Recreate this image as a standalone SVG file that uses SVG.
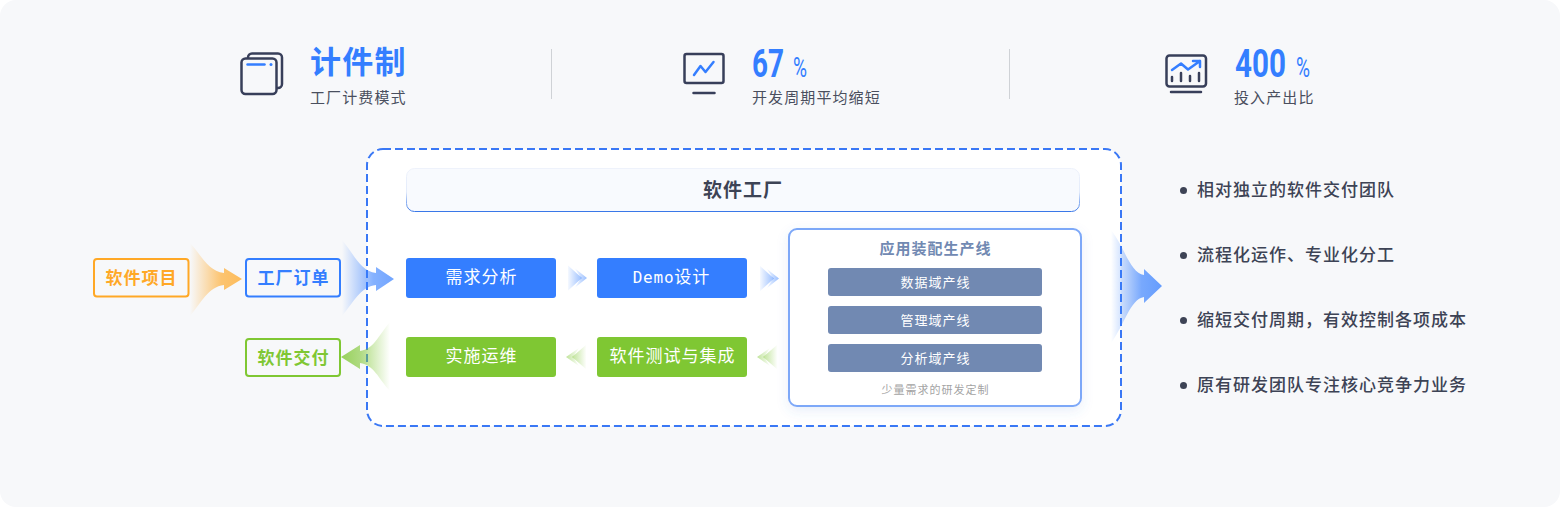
<svg xmlns="http://www.w3.org/2000/svg" width="1560" height="507" viewBox="0 0 1560 507">
<style>
text{font-family:"Noto Sans CJK SC","Noto Sans",sans-serif}
.ic{fill:none;stroke:#383F5A;stroke-width:2.5;stroke-linecap:round;stroke-linejoin:round}
.ib{fill:none;stroke:#347EFF;stroke-width:2.5;stroke-linecap:round;stroke-linejoin:round}
.ttl{font-size:31px;font-weight:700;fill:#347EFF;letter-spacing:1.300px}
.num{font-family:"Liberation Sans Narrow","Roboto","Liberation Sans",sans-serif;font-size:38px;font-weight:700;fill:#347EFF}
.pct{font-family:"Liberation Sans Narrow","Roboto","Liberation Sans",sans-serif;font-size:28px;fill:#347EFF}
.sub{font-size:15px;fill:#4A4F5E;letter-spacing:1.100px}
.lbl{font-size:17px;font-weight:700;text-anchor:middle;letter-spacing:1px}
.btn{font-size:17px;fill:#fff;text-anchor:middle;letter-spacing:1px}
.li{font-size:17px;font-weight:500;fill:#3D4355;letter-spacing:1px}
.dom{font-size:13px;fill:#fff;text-anchor:middle;letter-spacing:1px}
.bl{fill:#347EFF}.gr{fill:#7FC733}
.dv{stroke:#CFD2D6;stroke-width:1}
</style>
<defs>
<linearGradient id="gO" gradientUnits="userSpaceOnUse" x1="190" x2="242" y1="0" y2="0"><stop offset="0" stop-color="#FFA826" stop-opacity="0"/><stop offset="0.6" stop-color="#FFA826" stop-opacity=".65"/><stop offset="1" stop-color="#FFA826" stop-opacity=".75"/></linearGradient>
<linearGradient id="gB" gradientUnits="userSpaceOnUse" x1="342" x2="394" y1="0" y2="0"><stop offset="0" stop-color="#347EFF" stop-opacity="0"/><stop offset="0.6" stop-color="#347EFF" stop-opacity=".6"/><stop offset="1" stop-color="#347EFF" stop-opacity=".7"/></linearGradient>
<linearGradient id="gG" gradientUnits="userSpaceOnUse" x1="390" x2="341" y1="0" y2="0"><stop offset="0" stop-color="#7FC733" stop-opacity="0"/><stop offset="0.6" stop-color="#7FC733" stop-opacity=".6"/><stop offset="1" stop-color="#7FC733" stop-opacity=".8"/></linearGradient>
<linearGradient id="gR" gradientUnits="userSpaceOnUse" x1="1111" x2="1162" y1="0" y2="0"><stop offset="0" stop-color="#347EFF" stop-opacity="0"/><stop offset="0.6" stop-color="#347EFF" stop-opacity=".65"/><stop offset="1" stop-color="#347EFF" stop-opacity=".75"/></linearGradient>
<linearGradient id="cB" x1="0" x2="1" y1="0" y2="0"><stop offset="0" stop-color="#347EFF" stop-opacity=".05"/><stop offset="1" stop-color="#347EFF" stop-opacity=".5"/></linearGradient>
<linearGradient id="cG" x1="1" x2="0" y1="0" y2="0"><stop offset="0" stop-color="#7FC733" stop-opacity=".02"/><stop offset="1" stop-color="#7FC733" stop-opacity=".5"/></linearGradient>
<linearGradient id="hd" x1="0" x2="0" y1="0" y2="1"><stop offset="0" stop-color="#EEF2FB"/><stop offset=".55" stop-color="#E3EBFB"/><stop offset="1" stop-color="#3A78E8"/></linearGradient>
<filter id="sh" x="-10%" y="-10%" width="120%" height="125%"><feDropShadow dx="0" dy="4" stdDeviation="6" flood-color="#4A78D0" flood-opacity=".12"/></filter>
<g id="chevR"><path d="M0 0L14 12.500L0 25Z"/><path d="M7 3L19 12.500L7 22L13 12.500Z"/></g>
<g id="chevL"><path d="M20 0L6 12L20 24Z"/><path d="M13 3L0 12L13 21L7 12Z"/></g>
</defs>
<rect width="1560" height="507" rx="16" fill="#F7F8FA"/>

<g id="metric-1">
<rect class="ic" x="248" y="53.500" width="34" height="34.500" rx="4"/>
<rect x="241.500" y="58.500" width="35" height="35.500" rx="4" fill="#F7F8FA" stroke="#383F5A" stroke-width="2.500"/>
<path class="ib" d="M247.500 64.500H264.500" stroke-width="3"/><circle cx="271" cy="64.500" r="1.500" class="bl"/>
<text class="ttl" x="310" y="73">计件制</text>
<text class="sub" x="310" y="103">工厂计费模式</text>
</g>
<line class="dv" x1="551.500" y1="49" x2="551.500" y2="99"/>
<g id="metric-2">
<rect class="ic" x="684.500" y="54" width="39" height="29" rx="2"/>
<path class="ic" d="M693.500 93H714.500"/>
<path class="ib" d="M694 75L700.500 66L705.500 72L713.500 62"/>
<text class="num" x="752" y="77" textLength="32" lengthAdjust="spacingAndGlyphs">67</text>
<text class="pct" x="793" y="77" textLength="14" lengthAdjust="spacingAndGlyphs">%</text>
<text class="sub" x="752" y="103">开发周期平均缩短</text>
</g>
<line class="dv" x1="1009.500" y1="49" x2="1009.500" y2="99"/>
<g id="metric-3">
<rect class="ic" x="1166.500" y="55.500" width="39.500" height="31" rx="3"/>
<path class="ic" d="M1171 92H1201M1172 77V81M1181 73V81M1190 76V81M1199 73V81"/>
<path class="ib" d="M1172 70L1181 63.500L1188 69.500L1200 61M1193 61H1200V67"/>
<text class="num" x="1235" y="77" textLength="51" lengthAdjust="spacingAndGlyphs">400</text>
<text class="pct" x="1296" y="77" textLength="14" lengthAdjust="spacingAndGlyphs">%</text>
<text class="sub" x="1234" y="103">投入产出比</text>
</g>

<g id="factory-frame"><rect x="367" y="149" width="754" height="277" rx="16" fill="#fff" stroke="#3A78F5" stroke-width="2" stroke-dasharray="8 4"/></g>
<g id="factory-header">
<rect x="406.500" y="168.500" width="673" height="43" rx="8" fill="#F8FAFE" stroke="url(#hd)" stroke-width="1"/>
<text x="743" y="197" font-size="19" font-weight="700" fill="#3D4355" text-anchor="middle" letter-spacing="1">软件工厂</text>
</g>

<g id="node-project"><rect x="94" y="259" width="94.500" height="37.500" rx="3" fill="none" stroke="#FFA826" stroke-width="2"/><text class="lbl" x="141.500" y="284" fill="#FFA826">软件项目</text></g>
<g id="node-order"><rect x="246" y="259" width="94" height="37.500" rx="3" fill="none" stroke="#347EFF" stroke-width="2"/><text class="lbl" x="293.500" y="284" fill="#347EFF">工厂订单</text></g>
<g id="node-delivery"><rect x="246" y="339" width="94" height="37" rx="3" fill="none" stroke="#7FC733" stroke-width="2"/><text class="lbl" x="293.500" y="364" fill="#7FC733">软件交付</text></g>

<g id="node-req"><rect class="bl" x="406" y="258" width="150" height="40" rx="3"/><text class="btn" x="481.500" y="283">需求分析</text></g>
<g id="node-demo"><rect class="bl" x="597" y="258" width="150" height="40" rx="3"/><text class="btn" x="671.500" y="283"><tspan font-family="'DejaVu Sans Mono',monospace" font-size="16" letter-spacing=".8">Demo</tspan>设计</text></g>
<g id="node-ops"><rect class="gr" x="406" y="337" width="150" height="40" rx="3"/><text class="btn" x="481.500" y="362">实施运维</text></g>
<g id="node-test"><rect class="gr" x="597" y="337" width="150" height="40" rx="3"/><text class="btn" x="672.500" y="362">软件测试与集成</text></g>

<g id="node-assembly">
<rect x="789" y="229" width="292" height="177" rx="8" fill="#fff" stroke="#7DA8F8" stroke-width="2" filter="url(#sh)"/>
<text x="935.500" y="253.500" font-size="15" font-weight="700" fill="#7189B2" text-anchor="middle" letter-spacing="1">应用装配生产线</text>
<rect x="828" y="268" width="214" height="28" rx="3" fill="#7189B2"/><text class="dom" x="935.500" y="286.500">数据域产线</text>
<rect x="828" y="306" width="214" height="28" rx="3" fill="#7189B2"/><text class="dom" x="935.500" y="324.500">管理域产线</text>
<rect x="828" y="344" width="214" height="28" rx="3" fill="#7189B2"/><text class="dom" x="935.500" y="362.500">分析域产线</text>
<text x="935.500" y="394" font-size="11" fill="#A3A3A3" text-anchor="middle" letter-spacing="1">少量需求的研发定制</text>
</g>

<g id="connectors">
<path fill="url(#gO)" d="M190 243C202 256 208 271 224 273V268L242 279L224 290V285C208 287 202 302 190 316Z"/>
<path fill="url(#gB)" d="M342 240C354 254 360 271 376 273V267L394 279L376 291V285C360 287 354 302 342 316Z"/>
<path fill="url(#gG)" d="M390 322C378 336 374 349 360 351V345L341 357L360 369V363C374 365 378 378 390 391Z"/>
<path fill="url(#gR)" d="M1111 230C1124 246 1130 273 1144 275V269L1162 286L1144 303V297C1130 299 1124 326 1111 343Z"/>
<use href="#chevR" x="568" y="265.500" fill="url(#cB)"/>
<use href="#chevR" x="760" y="266" fill="url(#cB)"/>
<use href="#chevL" x="566" y="345" fill="url(#cG)"/>
<use href="#chevL" x="757" y="345" fill="url(#cG)"/>
</g>

<g id="benefits">
<circle cx="1183.500" cy="190.500" r="3.500" fill="#3D4355"/><text class="li" x="1197" y="196">相对独立的软件交付团队</text>
<circle cx="1183.500" cy="255.500" r="3.500" fill="#3D4355"/><text class="li" x="1197" y="261">流程化运作、专业化分工</text>
<circle cx="1183.500" cy="320.500" r="3.500" fill="#3D4355"/><text class="li" x="1197" y="326">缩短交付周期，有效控制各项成本</text>
<circle cx="1183.500" cy="385.500" r="3.500" fill="#3D4355"/><text class="li" x="1197" y="391">原有研发团队专注核心竞争力业务</text>
</g>
</svg>
